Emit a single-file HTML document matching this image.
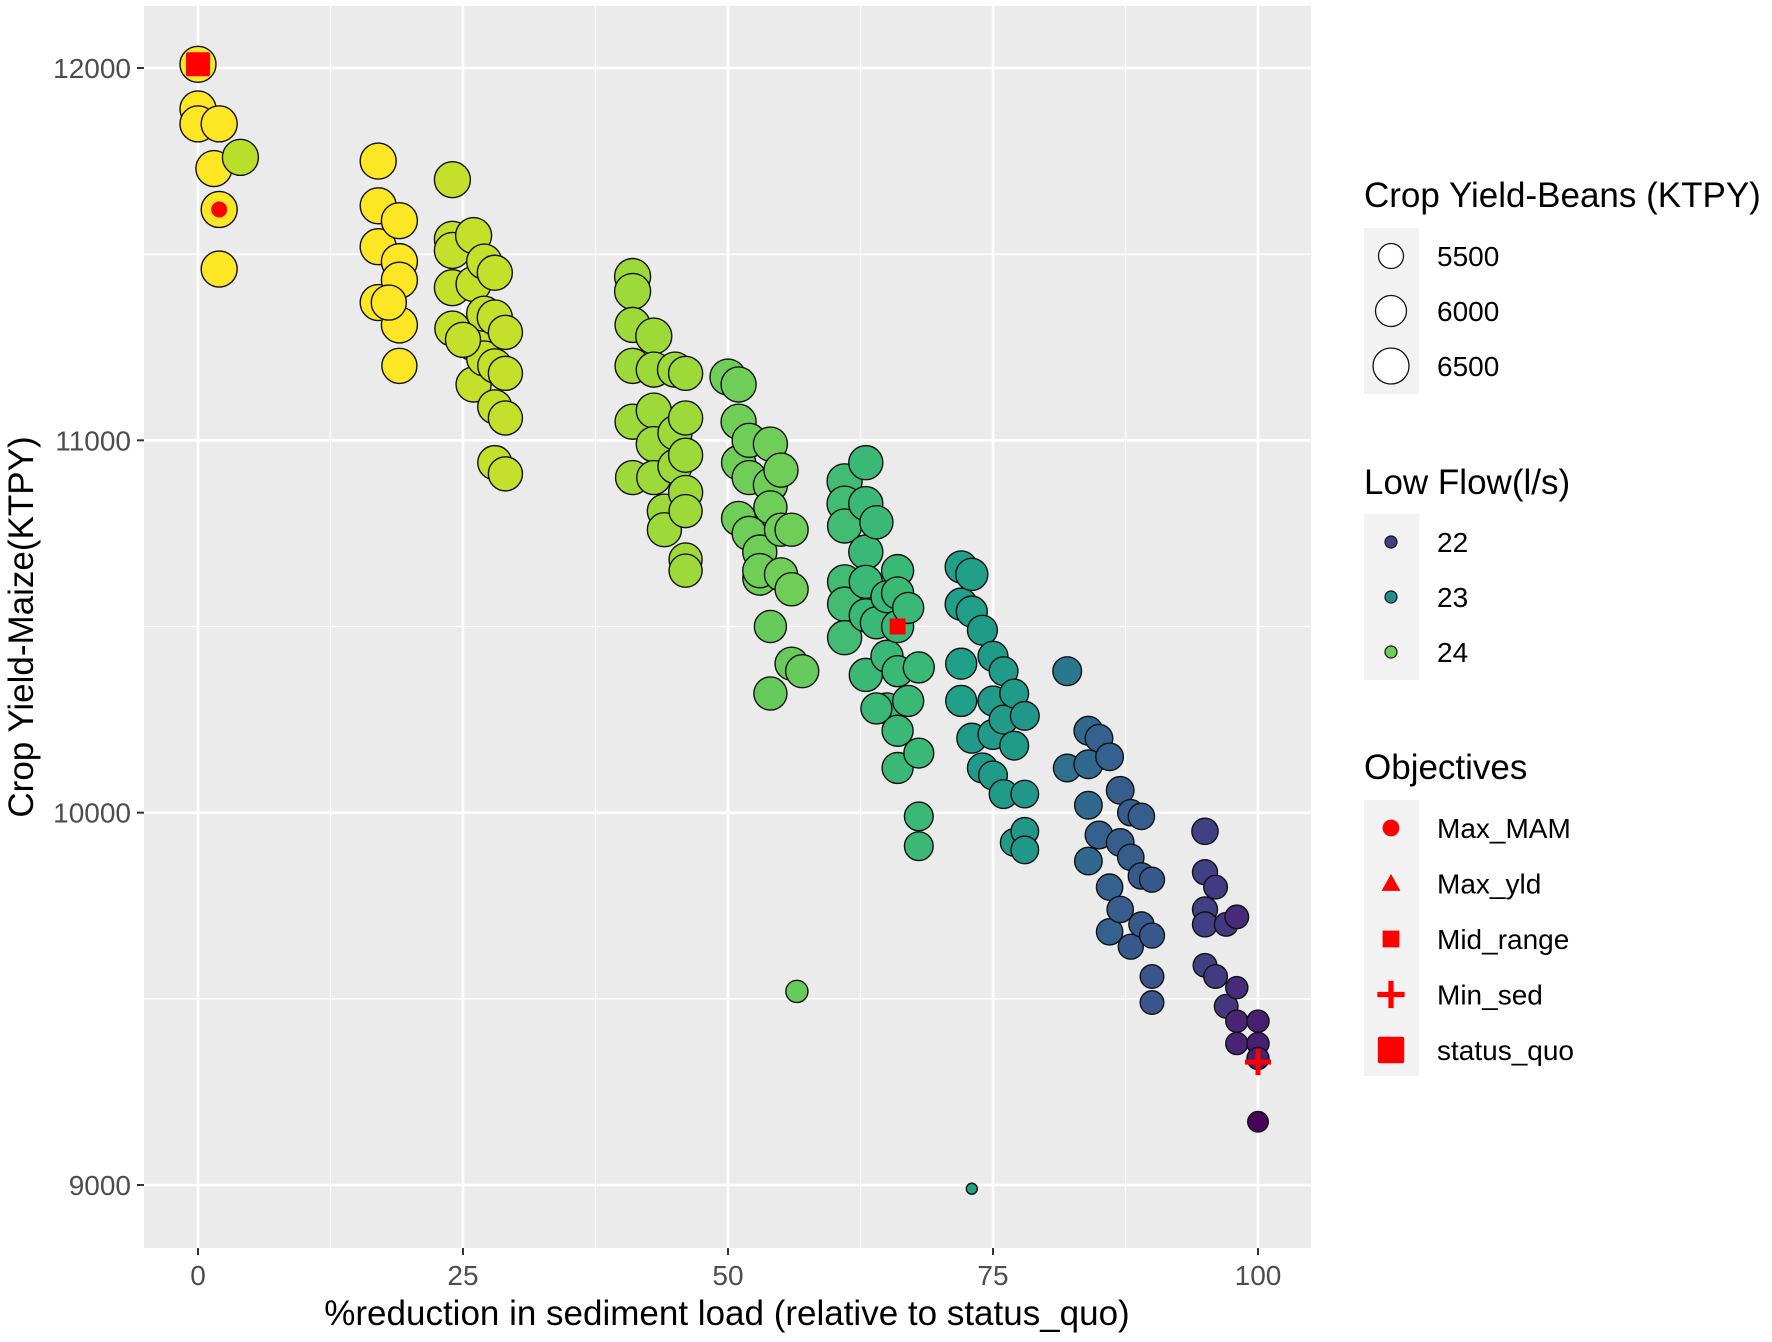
<!DOCTYPE html>
<html><head><meta charset="utf-8"><style>
html,body{margin:0;padding:0;background:#fff}
svg{display:block;font-family:"Liberation Sans",Arial,sans-serif}
</style></head><body>
<svg id="chart" width="1772" height="1342" viewBox="0 0 1772 1342" xmlns="http://www.w3.org/2000/svg">
<rect x="144" y="6" width="1167" height="1242" fill="#ebebeb"/>
<g id="grid"></g>
<g id="axes"></g>
<g id="points"></g>
<g id="markers"></g>
<text x="727" y="1325" font-size="35" text-anchor="middle" fill="#000">%reduction in sediment load (relative to status_quo)</text>
<text transform="translate(33,627) rotate(-90)" font-size="35" text-anchor="middle" fill="#000">Crop Yield-Maize(KTPY)</text>
<g id="legend"></g>
</svg>
<script>
const xTicks=[0,25,50,75,100];
const yTicks=[9000,10000,11000,12000];
const xs=[0,0,0,2,1.5,4,2,2,
17,17,17,17,19,19,19,19,19,18,
24,24,24,24,24,26,26,26,26,27,27,27,28,28,28,28,29,29,29,28,29,25,
41,41,41,41,41,41,43,43,43,43,43,45,45,45,44,44,46,46,46,46,46,46,46,
50,51,51,51,51,52,52,52,53,53,53,54,54,54,54,55,55,55,56,56,56,57,54,56.5,
61,61,61,61,61,61,63,63,63,63,63,63,64,64,65,65,65,66,66,66,66,66,66,67,67,68,68,68,68,64,
72,72,72,72,73,73,73,74,74,75,75,75,75,76,76,76,77,77,77,78,78,78,78,73,
82,82,84,84,84,84,85,85,86,86,86,87,87,87,88,88,88,89,89,90,90,90,90,89,
95,95,95,95,95,96,96,97,97,98,98,98,98,100,100,100,100];
const ys=[12010,11890,11850,11850,11730,11760,11620,11460,
11750,11630,11520,11370,11590,11480,11430,11310,11200,11370,
11700,11540,11510,11410,11300,11550,11420,11260,11150,11480,11340,11220,11450,11330,11200,11090,11290,11180,11060,10940,10910,11270,
11440,11400,11310,11200,11050,10900,11280,11190,11080,10990,10900,11190,11020,10930,10810,10760,11180,11060,10960,10860,10810,10680,10650,
11170,11150,11050,10940,10790,11000,10900,10750,10700,10630,10650,10990,10880,10820,10500,10920,10760,10640,10760,10600,10400,10380,10320,9520,
10890,10830,10770,10620,10560,10470,10940,10830,10700,10620,10530,10370,10780,10510,10580,10420,10280,10650,10590,10500,10380,10220,10120,10300,10550,10390,10160,9990,9910,10280,
10660,10560,10400,10300,10640,10540,10200,10490,10120,10420,10300,10210,10100,10380,10250,10050,10320,10180,9920,10260,10050,9950,9900,8990,
10380,10120,10220,10130,10020,9870,10200,9940,10150,9800,9680,10060,9920,9740,10000,9880,9640,9830,9700,9820,9670,9560,9490,9990,
9950,9840,9740,9700,9590,9800,9560,9480,9700,9720,9530,9440,9380,9440,9380,9340,9170];
const beans=[6500,6500,6500,6500,6500,6500,6500,6500,
6500,6500,6500,6500,6500,6500,6500,6500,6400,6400,
6500,6500,6500,6500,6400,6500,6400,6400,6400,6400,6400,6400,6400,6400,6300,6300,6300,6300,6300,6300,6300,6400,
6500,6500,6400,6400,6400,6300,6500,6400,6400,6400,6300,6400,6300,6300,6300,6300,6300,6300,6300,6300,6200,6200,6200,
6500,6400,6400,6300,6300,6300,6300,6300,6300,6300,6300,6300,6300,6200,6100,6300,6200,6200,6200,6200,6200,6200,6200,5300,
6400,6400,6300,6300,6300,6300,6300,6300,6300,6200,6200,6200,6200,6100,6100,6100,6000,6100,6100,6100,6000,6000,6000,6000,6000,6000,5900,5800,5800,6000,
6100,6100,6000,6000,6100,6000,5900,5900,5900,5900,5900,5900,5800,5800,5800,5800,5800,5800,5700,5800,5700,5700,5700,4750,
5800,5700,5800,5800,5700,5700,5700,5700,5700,5600,5600,5700,5700,5600,5600,5600,5500,5600,5500,5500,5500,5400,5400,5600,
5600,5500,5500,5500,5400,5400,5400,5400,5400,5400,5300,5300,5300,5300,5300,5300,5200];
const flow=[24.8,24.8,24.8,24.8,24.8,24.4,24.8,24.8,
24.75,24.75,24.75,24.75,24.75,24.75,24.75,24.75,24.75,24.75,
24.45,24.45,24.45,24.45,24.45,24.45,24.45,24.45,24.45,24.45,24.45,24.45,24.45,24.45,24.45,24.45,24.45,24.45,24.45,24.45,24.45,24.45,
24.25,24.25,24.25,24.25,24.25,24.25,24.25,24.25,24.25,24.25,24.25,24.25,24.25,24.25,24.25,24.25,24.25,24.25,24.25,24.25,24.25,24.25,24.25,
24.0,24.0,24.0,24.0,24.0,24.0,24.0,24.0,24.0,24.0,24.0,24.0,24.0,24.0,23.95,24.0,24.0,24.0,24.0,24.0,23.95,23.95,23.95,23.95,
23.7,23.7,23.7,23.7,23.7,23.7,23.65,23.65,23.65,23.65,23.65,23.65,23.65,23.65,23.65,23.65,23.65,23.65,23.65,23.65,23.65,23.65,23.65,23.65,23.65,23.65,23.65,23.65,23.65,23.65,
23.25,23.25,23.25,23.25,23.25,23.25,23.2,23.2,23.2,23.2,23.2,23.2,23.2,23.2,23.2,23.2,23.2,23.2,23.2,23.15,23.15,23.15,23.15,23.3,
22.7,22.6,22.5,22.5,22.5,22.5,22.4,22.4,22.4,22.4,22.4,22.35,22.35,22.35,22.35,22.35,22.3,22.3,22.3,22.3,22.3,22.25,22.25,22.35,
22.0,22.0,22.0,22.0,22.0,21.95,21.95,21.9,21.9,21.75,21.75,21.7,21.7,21.65,21.65,21.65,21.4];
const objNames=["Max_MAM","Max_yld","Mid_range","Min_sed","status_quo"];
const objX=[2,null,66,100,0];
const objY=[11620,null,10500,9330,12010];

const NS="http://www.w3.org/2000/svg";
const X=v=>198+v*10.6;
const Y=v=>68+(12000-v)*(1117/3000);
const R=b=>Math.sqrt(Math.max(16,0.168*b-768));
const vir=["#440154","#482878","#3e4989","#31688e","#26828e","#1f9e89","#35b779","#6ece58","#b5de2b","#fde725"];
function hex(c){return [1,3,5].map(i=>parseInt(c.substr(i,2),16));}
function C(f){let t=Math.min(1,Math.max(0,(f-21.35)/3.4))*9;let i=Math.min(8,Math.floor(t));let u=t-i;
 const a=hex(vir[i]),b=hex(vir[i+1]);return "rgb("+a.map((v,k)=>Math.round(v+(b[k]-v)*u)).join(",")+")";}
function mk(tag,at,parent){const e=document.createElementNS(NS,tag);for(const k in at)e.setAttribute(k,at[k]);parent.appendChild(e);return e;}
const grid=document.getElementById('grid'),axes=document.getElementById('axes');
[12.5,37.5,62.5,87.5].forEach(v=>{const l=mk('line',{x1:X(v),x2:X(v),y1:6,y2:1248,stroke:'#fff','stroke-width':1.3},grid);

});
[9500,10500,11500].forEach(v=>{const l=mk('line',{x1:144,x2:1311,y1:Y(v),y2:Y(v),stroke:'#fff','stroke-width':1.3},grid);

});
xTicks.forEach(v=>{const l=mk('line',{x1:X(v),x2:X(v),y1:6,y2:1248,stroke:'#fff','stroke-width':2.6},grid);


const t=mk('line',{x1:X(v),x2:X(v),y1:1248,y2:1255,stroke:'#333','stroke-width':2},axes);


const tx=mk('text',{x:X(v),y:1285,'font-size':28,'text-anchor':'middle',fill:'#4d4d4d'},axes);tx.textContent=v;

});
yTicks.forEach(v=>{const l=mk('line',{x1:144,x2:1311,y1:Y(v),y2:Y(v),stroke:'#fff','stroke-width':2.6},grid);


const t=mk('line',{x1:137,x2:144,y1:Y(v),y2:Y(v),stroke:'#333','stroke-width':2},axes);


const tx=mk('text',{x:131,y:Y(v)+10,'font-size':28,'text-anchor':'end',fill:'#4d4d4d'},axes);tx.textContent=v;

});
const pts=document.getElementById('points');
xs.forEach((x,i)=>{const c=mk('circle',{cx:X(x),cy:Y(ys[i]),r:R(beans[i]),fill:C(flow[i]),stroke:'#111','stroke-width':1.4},pts);

});
const mg=document.getElementById('markers');
function marker(name,cx,cy,s,g){let e;
 if(name==="Max_MAM")e=mk('circle',{cx,cy,r:8*s,fill:'#f00'},g);
 else if(name==="Max_yld")e=mk('polygon',{points:`${cx},${cy-9*s} ${cx-9*s},${cy+7*s} ${cx+9*s},${cy+7*s}`,fill:'#f00'},g);
 else if(name==="Mid_range")e=mk('rect',{x:cx-8*s,y:cy-8*s,width:16*s,height:16*s,fill:'#f00'},g);
 else if(name==="Min_sed")e=mk('path',{d:`M${cx-13*s},${cy}H${cx+13*s}M${cx},${cy-13*s}V${cy+13*s}`,stroke:'#f00','stroke-width':5*s,fill:'none'},g);
 else e=mk('rect',{x:cx-12*s,y:cy-12*s,width:24*s,height:24*s,rx:2,fill:'#f00'},g);
 return e;}
objNames.forEach((n,i)=>{if(objX[i]===null)return;const e=marker(n,X(objX[i]),Y(objY[i]),1,mg);

});
const lg=document.getElementById('legend');
function title(t,y){const e=mk('text',{x:1364,y:y,'font-size':35,fill:'#000'},lg);e.textContent=t;

}
function label(t,y){const e=mk('text',{x:1437,y:y+10,'font-size':28,fill:'#000'},lg);e.textContent=t;

}
title('Crop Yield-Beans (KTPY)',207);
const sizeKeys=[5500,6000,6500];
const sk=mk('rect',{x:1364,y:228,width:55,height:166,fill:'#f2f2f2'},lg);


sizeKeys.forEach((b,i)=>{const y=256+i*55;const c=mk('circle',{cx:1391,cy:y,r:R(b),fill:'#fff',stroke:'#111','stroke-width':1.3},lg);

label(b,y);});
title('Low Flow(l/s)',494);
const flowKeys=[22,23,24];
const fk=mk('rect',{x:1364,y:514,width:55,height:166,fill:'#f2f2f2'},lg);


flowKeys.forEach((f,i)=>{const y=542+i*55;const c=mk('circle',{cx:1391,cy:y,r:6,fill:C(f),stroke:'#111','stroke-width':1.2},lg);

label(f,y);});
title('Objectives',779);
const ok=mk('rect',{x:1364,y:800,width:55,height:276,fill:'#f2f2f2'},lg);


objNames.forEach((n,i)=>{const y=828+i*55.5;const e=marker(n,1391,y,n==="status_quo"?1.1:1.05,lg);

label(n,y);});
</script>
</body></html>
